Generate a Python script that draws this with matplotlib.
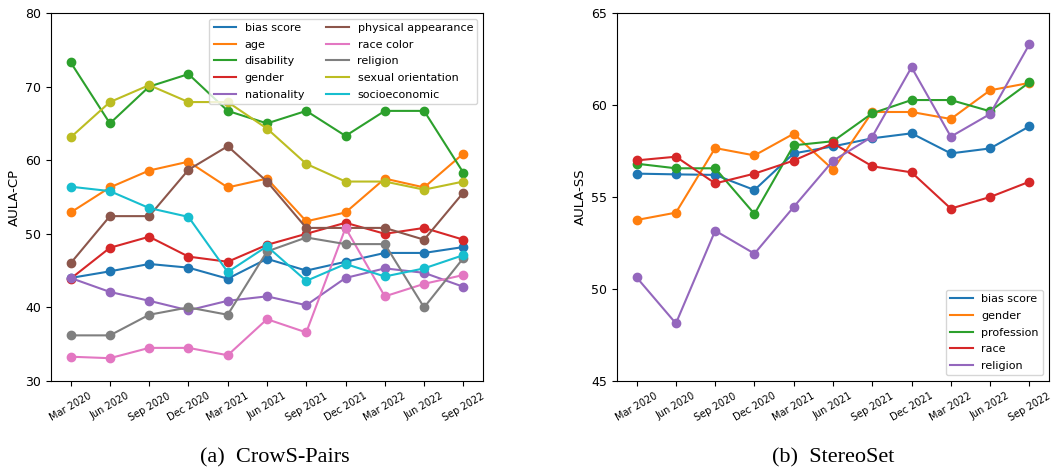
import numpy as np
import matplotlib
matplotlib.use("Agg")
from matplotlib import pyplot as plt

dates = ['Mar 2020', 'Jun 2020', 'Sep 2020', 'Dec 2020', 'Mar 2021', 'Jun 2021',
         'Sep 2021', 'Dec 2021', 'Mar 2022', 'Jun 2022', 'Sep 2022']

# CrowS-Pairs (AULA-CP)
cp_bias_score = [44.0, 44.9, 45.9, 45.4, 43.9, 46.6, 45.0, 46.2, 47.4, 47.4, 48.2]
cp_age = [52.9, 56.3, 58.6, 59.8, 56.3, 57.5, 51.7, 52.9, 57.5, 56.3, 60.9]
cp_disability = [73.3, 65.0, 70.0, 71.7, 66.7, 65.0, 66.7, 63.3, 66.7, 66.7, 58.3]
cp_gender = [43.9, 48.1, 49.6, 46.9, 46.2, 48.5, 50.0, 51.5, 50.0, 50.8, 49.2]
cp_nationality = [44.0, 42.1, 40.9, 39.6, 40.9, 41.5, 40.3, 44.0, 45.3, 44.7, 42.8]
cp_physical = [46.0, 52.4, 52.4, 58.7, 61.9, 57.1, 50.8, 50.8, 50.8, 49.2, 55.6]
cp_race_color = [33.3, 33.1, 34.5, 34.5, 33.5, 38.4, 36.6, 50.8, 41.5, 43.2, 44.4]
cp_religion = [36.2, 36.2, 39.0, 40.0, 39.0, 47.6, 49.5, 48.6, 48.6, 40.0, 46.7]
cp_sexual = [63.1, 67.9, 70.2, 67.9, 67.9, 64.3, 59.5, 57.1, 57.1, 56.0, 57.1]
cp_socio = [56.4, 55.8, 53.5, 52.3, 44.8, 48.3, 43.6, 45.9, 44.2, 45.3, 47.1]

# StereoSet (AULA-SS)
ss_bias_score = [56.27, 56.23, 56.2, 55.38, 57.37, 57.75, 58.19, 58.46, 57.37, 57.64, 58.84]
ss_gender = [53.75, 54.15, 57.66, 57.26, 58.44, 56.49, 59.62, 59.62, 59.24, 60.8, 61.2]
ss_profession = [56.81, 56.56, 56.56, 54.08, 57.81, 58.03, 59.55, 60.27, 60.27, 59.66, 61.23]
ss_race = [56.99, 57.19, 55.74, 56.27, 56.98, 57.92, 56.67, 56.34, 54.37, 55.0, 55.83]
ss_religion = [50.63, 48.13, 53.17, 51.92, 54.46, 56.97, 58.28, 62.05, 58.28, 59.51, 63.3]

cp_series = [('bias score', cp_bias_score), ('age', cp_age), ('disability', cp_disability),
             ('gender', cp_gender), ('nationality', cp_nationality),
             ('physical appearance', cp_physical), ('race color', cp_race_color),
             ('religion', cp_religion), ('sexual orientation', cp_sexual),
             ('socioeconomic', cp_socio)]
ss_series = [('bias score', ss_bias_score), ('gender', ss_gender),
             ('profession', ss_profession), ('race', ss_race), ('religion', ss_religion)]

fig = plt.figure(figsize=(10.51, 4.70), dpi=100)
ax1 = fig.add_axes([51 / 1051, 1 - 381 / 470, 432 / 1051, 368 / 470])
ax2 = fig.add_axes([617 / 1051, 1 - 381 / 470, 432 / 1051, 368 / 470])

x = np.arange(len(dates))


def draw(ax, series, ylim, ylabel):
    # line carries the legend label, markers drawn on top without one
    for i, (label, vals) in enumerate(series):
        c = 'C%d' % i
        ax.plot(x, vals, '-', color=c, linewidth=1.5, label=label)
        ax.plot(x, vals, 'o', color=c, markersize=6)
    ax.set_ylim(*ylim)
    ax.set_xlim(-0.5, len(dates) - 0.5)
    ax.set_xticks(x)
    ax.set_xticklabels(dates, rotation=30, fontsize=7)
    ax.set_ylabel(ylabel, fontsize=9.5, labelpad=3)
    ax.tick_params(axis='y', labelsize=9)


draw(ax1, cp_series, (30, 80), 'AULA-CP')
ax1.set_yticks([30, 40, 50, 60, 70, 80])
ax1.legend(ncol=2, loc='upper right', fontsize=8, labelspacing=0.6)

draw(ax2, ss_series, (45, 65), 'AULA-SS')
ax2.set_yticks([45, 50, 55, 60, 65])
ax2.legend(loc='lower right', fontsize=8, labelspacing=0.6)

fig.text(275 / 1051, 1 - 458 / 470, '(a)  CrowS-Pairs', ha='center', va='center',
         family='Liberation Serif', fontsize=16)
fig.text(833 / 1051, 1 - 458 / 470, '(b)  StereoSet', ha='center', va='center',
         family='Liberation Serif', fontsize=16)

fig.savefig('out.png', dpi=100)
